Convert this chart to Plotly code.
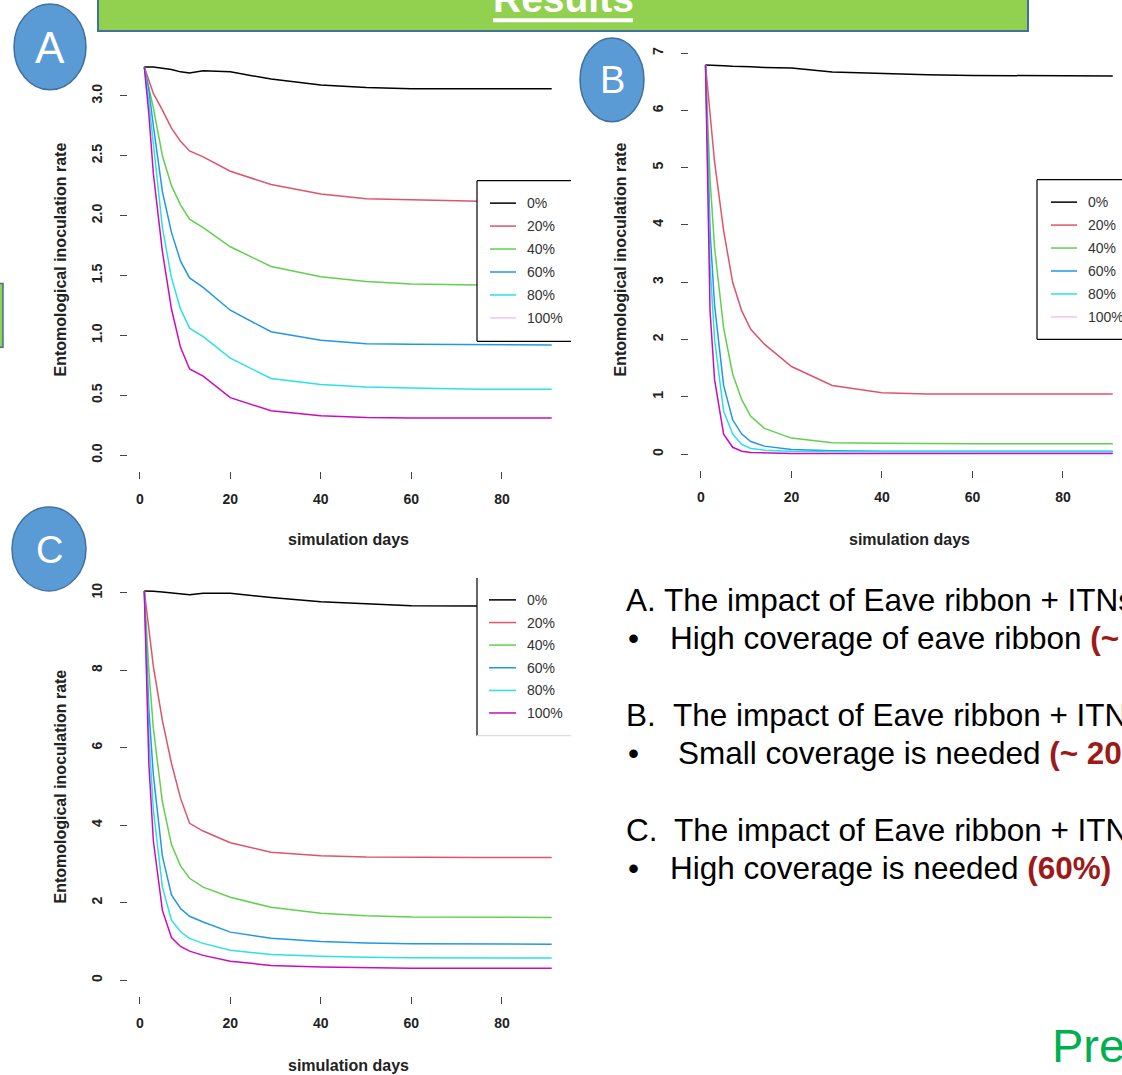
import plotly.graph_objects as go

W, H = 1122, 1075


def X(p):
    return p / W


def Y(p):
    return 1 - p / H


# ---------------- data ----------------
coverage_labels = ["0%", "20%", "40%", "60%", "80%", "100%"]
line_colors = ["#000000", "#DF536B", "#61D04F", "#2297E6", "#28E2E5", "#CD0BBC"]

days = [1, 2, 3, 5, 7, 9, 11, 14, 20, 29, 40, 50, 60, 75, 91]

# Panel A
eir_a_0 = [3.24, 3.24, 3.24, 3.23, 3.22, 3.20, 3.19, 3.21, 3.20, 3.14, 3.09, 3.07, 3.06, 3.06, 3.06]
eir_a_20 = [3.24, 3.13, 3.02, 2.88, 2.73, 2.62, 2.54, 2.49, 2.37, 2.26, 2.18, 2.14, 2.13, 2.12, 2.12]
eir_a_40 = [3.24, 3.08, 2.90, 2.50, 2.25, 2.09, 1.97, 1.90, 1.74, 1.575, 1.49, 1.45, 1.43, 1.42, 1.42]
eir_a_60 = [3.24, 3.05, 2.75, 2.20, 1.86, 1.62, 1.48, 1.40, 1.21, 1.03, 0.96, 0.93, 0.925, 0.92, 0.92]
eir_a_80 = [3.24, 2.95, 2.60, 1.90, 1.48, 1.22, 1.06, 0.99, 0.81, 0.64, 0.59, 0.57, 0.56, 0.55, 0.55]
eir_a_100 = [3.24, 2.85, 2.35, 1.70, 1.22, 0.90, 0.72, 0.66, 0.48, 0.37, 0.33, 0.315, 0.31, 0.31, 0.31]

# Panel B
eir_b_0 = [6.79, 6.79, 6.79, 6.78, 6.77, 6.76, 6.76, 6.75, 6.74, 6.67, 6.64, 6.62, 6.61, 6.60, 6.60]
eir_b_20 = [6.79, 5.90, 5.10, 3.90, 3.00, 2.50, 2.18, 1.92, 1.53, 1.20, 1.07, 1.05, 1.05, 1.05, 1.05]
eir_b_40 = [6.79, 4.80, 3.60, 2.20, 1.40, 0.95, 0.66, 0.45, 0.28, 0.20, 0.19, 0.18, 0.18, 0.18, 0.18]
eir_b_60 = [6.79, 3.90, 2.60, 1.20, 0.60, 0.35, 0.22, 0.14, 0.08, 0.06, 0.05, 0.05, 0.05, 0.05, 0.05]
eir_b_80 = [6.79, 3.30, 2.00, 0.75, 0.35, 0.17, 0.10, 0.07, 0.05, 0.04, 0.04, 0.04, 0.04, 0.04, 0.04]
eir_b_100 = [6.79, 2.50, 1.30, 0.35, 0.12, 0.05, 0.03, 0.02, 0.01, 0.01, 0.01, 0.01, 0.01, 0.01, 0.01]

# Panel C
eir_c_0 = [10.05, 10.05, 10.04, 10.02, 10.00, 9.97, 9.95, 9.99, 9.99, 9.88, 9.77, 9.72, 9.67, 9.66, 9.66]
eir_c_20 = [10.05, 9.00, 8.10, 6.70, 5.60, 4.70, 4.05, 3.85, 3.55, 3.30, 3.21, 3.18, 3.17, 3.17, 3.17]
eir_c_40 = [10.05, 8.00, 6.50, 4.60, 3.50, 2.95, 2.63, 2.40, 2.14, 1.88, 1.73, 1.66, 1.63, 1.62, 1.62]
eir_c_60 = [10.05, 7.00, 5.30, 3.20, 2.20, 1.85, 1.65, 1.50, 1.24, 1.08, 1.00, 0.96, 0.94, 0.93, 0.93]
eir_c_80 = [10.05, 6.30, 4.40, 2.40, 1.55, 1.25, 1.08, 0.95, 0.77, 0.66, 0.62, 0.59, 0.58, 0.57, 0.57]
eir_c_100 = [10.05, 5.60, 3.60, 1.80, 1.10, 0.87, 0.75, 0.64, 0.49, 0.38, 0.34, 0.32, 0.31, 0.31, 0.31]

x_ticks = [0, 20, 40, 60, 80]
y_ticks_a = [0, 0.5, 1.0, 1.5, 2.0, 2.5, 3.0]
y_ticks_b = [0, 1, 2, 3, 4, 5, 6, 7]
y_ticks_c = [0, 2, 4, 6, 8, 10]

panels = [
    ("x", "y", [eir_a_0, eir_a_20, eir_a_40, eir_a_60, eir_a_80, eir_a_100]),
    ("x2", "y2", [eir_b_0, eir_b_20, eir_b_40, eir_b_60, eir_b_80, eir_b_100]),
    ("x3", "y3", [eir_c_0, eir_c_20, eir_c_40, eir_c_60, eir_c_80, eir_c_100]),
]

fig = go.Figure()
for xa, ya, series in panels:
    for name, col, vals in zip(coverage_labels, line_colors, series):
        fig.add_trace(go.Scatter(
            x=days, y=vals, mode="lines", name=name,
            line=dict(color=col, width=1.5),
            xaxis=xa, yaxis=ya, showlegend=False, hoverinfo="skip"))

FONT = "Liberation Sans, Arial, sans-serif"
tick_font = dict(family=FONT, size=14, color="#222222", weight="bold")

common = dict(showgrid=False, zeroline=False, showline=False, ticks="outside",
              ticklen=7, tickwidth=1, tickcolor="#444444", tickfont=tick_font,
              fixedrange=True)

fig.update_layout(
    width=W, height=H, margin=dict(l=0, r=0, t=0, b=0),
    paper_bgcolor="white", plot_bgcolor="white", showlegend=False,
    xaxis=dict(domain=[X(128), X(568)], range=[-2.6, 94.6], tickvals=x_ticks,
               anchor="y", ticklabelstandoff=8, **common),
    yaxis=dict(domain=[Y(469.6), Y(49.6)], range=[-0.13, 3.37], tickvals=y_ticks_a,
               ticktext=["%.1f" % v for v in y_ticks_a], tickangle=-90,
               anchor="x", ticklabelstandoff=12, **common),
    xaxis2=dict(domain=[X(689), 1.0], range=[-2.65, 93.04], tickvals=x_ticks,
                anchor="y2", ticklabelstandoff=8, **common),
    yaxis2=dict(domain=[Y(468.5), Y(47)], range=[-0.27, 7.073], tickvals=y_ticks_b,
                tickangle=-90, anchor="x2", ticklabelstandoff=12, **common),
    xaxis3=dict(domain=[X(128), X(568)], range=[-2.6, 94.6], tickvals=x_ticks,
                anchor="y3", ticklabelstandoff=8, **common),
    yaxis3=dict(domain=[Y(995.5), Y(574.5)], range=[-0.4, 10.45], tickvals=y_ticks_c,
                tickangle=-90, anchor="x3", ticklabelstandoff=12, **common),
)

shapes = []
annotations = []


def rect(x0, y0, x1, y1, fill, line=None, lw=0, layer="above"):
    shapes.append(dict(type="rect", xref="paper", yref="paper",
                       x0=X(x0), x1=X(x1), y0=Y(y1), y1=Y(y0),
                       fillcolor=fill, layer=layer,
                       line=dict(color=line if line else fill, width=lw)))


def seg(x0, y0, x1, y1, color, width=1):
    shapes.append(dict(type="line", xref="paper", yref="paper",
                       x0=X(x0), x1=X(x1), y0=Y(y0), y1=Y(y1), layer="above",
                       line=dict(color=color, width=width)))


def ellipse(cx, cy, rx, ry):
    shapes.append(dict(type="circle", xref="paper", yref="paper",
                       x0=X(cx - rx), x1=X(cx + rx), y0=Y(cy + ry), y1=Y(cy - ry),
                       fillcolor="#5B9BD5", layer="above",
                       line=dict(color="#41719C", width=1.5)))


def text(x, y, s, size, color="#000000", xanchor="left", yanchor="middle",
         bold=False, angle=0, family=FONT):
    annotations.append(dict(xref="paper", yref="paper", x=X(x), y=Y(y), text=s,
                            showarrow=False, xanchor=xanchor, yanchor=yanchor,
                            textangle=angle,
                            font=dict(family=family, size=size, color=color,
                                      weight="bold" if bold else "normal")))


# banner
rect(98, -20, 1028, 29, "#92D050", "#41719C", 2)
text(563, -4, "Results", 39, "white", xanchor="center", bold=True)
seg(493, 18.3, 633, 18.3, "white", 4)

# small partial box on left edge
rect(-20, 282, 3, 346, "#92D050", "#41719C", 1.5)

# circles
ellipse(50, 45, 36, 43)
text(50, 46, "A", 44, "white", xanchor="center")
ellipse(612, 78, 32, 42)
text(612, 78, "B", 38, "white", xanchor="center")
ellipse(49, 548, 37, 42)
text(49, 549, "C", 38, "white", xanchor="center")

# axis titles
ytitle = "Entomological inoculation rate"
xtitle = "simulation days"
for (tx, ty) in [(61, 258), (621, 258), (61, 786)]:
    text(tx, ty, ytitle, 16, "#222222", xanchor="center", bold=True, angle=-90)
for (tx, ty) in [(348, 539), (909, 539), (348, 1065)]:
    text(tx, ty, xtitle, 16, "#222222", xanchor="center", bold=True)

# legends (drawn manually so they can be cropped like the reference)
legend_sample_colors_ab = line_colors[:5] + ["#F2C6EE"]


def legend(left, top, bottom, right, y_rows, sx0, sx1, tx, sample_colors,
           top_border=True, bottom_color="#000000"):
    rect(left, top, right, bottom, "white")
    if top_border:
        seg(left, top, right, top, "#000000", 1.2)
    seg(left, top, left, bottom, "#000000", 1.2)
    seg(left, bottom, right, bottom, bottom_color, 1.2)
    for yy, col, lab in zip(y_rows, sample_colors, coverage_labels):
        seg(sx0, yy, sx1, yy, col, 1.5)
        text(tx, yy, lab, 14, "#333333")


legend(477, 179, 340, 571, [201.5, 224.5, 247.5, 270.5, 293.5, 316.5],
       490, 516, 525, legend_sample_colors_ab)
legend(1037, 178, 338, 1130, [200.5, 223.5, 246.5, 269.5, 292.5, 315.5],
       1051, 1077, 1086, legend_sample_colors_ab)
legend(477, 577, 735, 571, [599, 621.7, 644.3, 667, 689.7, 712.3],
       489, 516, 525, line_colors, top_border=False, bottom_color="#DDDDDD")

# right-hand text block
RED = "#9C1A1A"
FS = 31.5
off = 0.3465 * FS + 2
dx = -3
text(627 + dx, 612.4 - off, "A.", FS)
text(665 + dx, 612.4 - off, "The impact of Eave ribbon + ITNs", FS)
text(629 + dx, 650.4 - off, "\u2022", FS)
text(671 + dx, 650.4 - off, "High coverage of eave ribbon <span style='color:%s'><b>(~ 80%%)</b></span>" % RED, FS)
text(627 + dx, 726.8 - off, "B.", FS)
text(674 + dx, 726.8 - off, "The impact of Eave ribbon + ITNs", FS)
text(629 + dx, 765 - off, "\u2022", FS)
text(679 + dx, 765 - off, "Small coverage is needed <span style='color:%s'><b>(~ 20%%)</b></span>" % RED, FS)
text(627 + dx, 842.5 - off, "C.", FS)
text(675 + dx, 842.5 - off, "The impact of Eave ribbon + ITNs", FS)
text(629 + dx, 880.5 - off, "\u2022", FS)
text(671 + dx, 880.5 - off, "High coverage is needed <span style='color:%s'><b>(60%%)</b></span>" % RED, FS)

# green footer text
text(1050, 1062 - 0.3465 * 47, "Pre", 47, "#00B050")

fig.update_layout(shapes=shapes, annotations=annotations)
fig.write_html("out.html")
